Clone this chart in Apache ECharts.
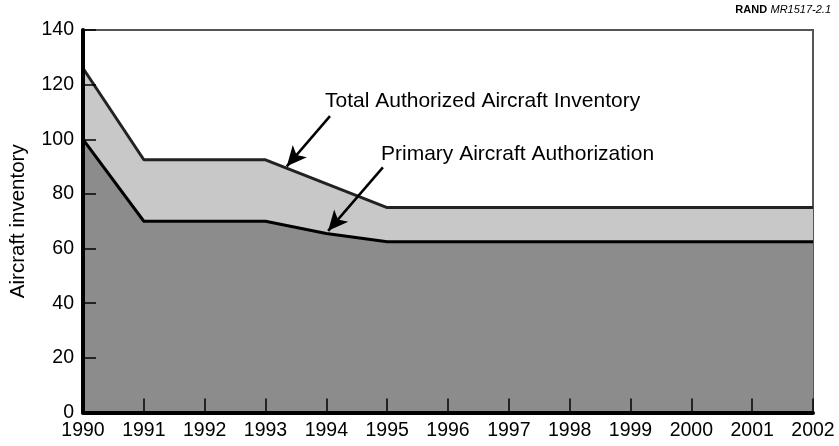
<!DOCTYPE html>
<html>
<head>
<meta charset="utf-8">
<script src="https://cdn.jsdelivr.net/npm/echarts@6/dist/echarts.min.js"></script>
<style>
  html, body { margin: 0; padding: 0; background: #fff; }
  #chart { width: 839px; height: 446px; }
</style>
</head>
<body>
<div id="chart"></div>
<script>
// values (year, aircraft)
var totalInventory = [[1990, 126], [1991, 92.5], [1993, 92.5], [1995, 75], [2002, 75]];
var primaryAuth = [[1990, 100], [1991, 70], [1993, 70], [1994, 65.5], [1995, 62.5], [2002, 62.5]];
var yearMin = 1990, yearMax = 2002;
// arrow start / tip in data units
var totalArrow = [[1994.06, 108.5], [1993.35, 90.1]];
var primaryArrow = [[1994.93, 89.7], [1994.03, 66.5]];

var font = 'Liberation Sans, Arial, Helvetica, sans-serif';
var chart = echarts.init(document.getElementById('chart'));

function arrow(pts) {
  return [{ coord: pts[0], symbol: 'none' }, { coord: pts[1], symbol: 'arrow' }];
}

chart.setOption({
  animation: false,
  grid: {
    left: 82, right: 26, top: 30, bottom: 33.5,
    show: true, borderColor: '#555', borderWidth: 2, backgroundColor: '#fff'
  },
  xAxis: {
    type: 'value', min: yearMin, max: yearMax, interval: 1, z: 10,
    axisLine: { lineStyle: { color: '#000', width: 4 } },
    axisTick: { inside: true, length: 14, lineStyle: { color: '#000', width: 1.5 } },
    axisLabel: { color: '#000', fontSize: 19.5, fontFamily: font, margin: 8,
      formatter: function (v) { return String(v); } },
    splitLine: { show: false }
  },
  yAxis: {
    type: 'value', min: 0, max: 140, interval: 20, z: 10,
    name: 'Aircraft inventory', nameLocation: 'middle', nameGap: 54,
    nameTextStyle: { color: '#000', fontSize: 20.5, fontFamily: font },
    axisLine: { show: true, lineStyle: { color: '#000', width: 4 } },
    axisTick: { show: true, inside: true, length: 13, lineStyle: { color: '#000', width: 1.5 } },
    axisLabel: { color: '#000', fontSize: 19.5, fontFamily: font, margin: 9 },
    splitLine: { show: false }
  },
  series: [
    {
      name: 'Total Authorized Aircraft Inventory',
      type: 'line', data: totalInventory, symbol: 'none', z: 2,
      lineStyle: { color: '#222', width: 3 },
      areaStyle: { color: '#c8c8c8', opacity: 1 }
    },
    {
      name: 'Primary Aircraft Authorization',
      type: 'line', data: primaryAuth, symbol: 'none', z: 3,
      lineStyle: { color: '#000', width: 3 },
      areaStyle: { color: '#8c8c8c', opacity: 1 },
      markLine: {
        silent: true, symbolSize: [14, 20],
        lineStyle: { color: '#000', width: 2.5, type: 'solid' },
        label: { show: false },
        data: [arrow(totalArrow), arrow(primaryArrow)]
      }
    }
  ],
  graphic: [
    { type: 'text', left: 325, top: 91,
      style: { text: 'Total Authorized Aircraft Inventory', fill: '#000', font: '21px ' + font } },
    { type: 'text', left: 381, top: 144,
      style: { text: 'Primary Aircraft Authorization', fill: '#000', font: '21px ' + font } },
    { type: 'text', right: 8, top: 4,
      style: {
        text: '{b|RAND} {i|MR1517-2.1}',
        rich: {
          b: { fontWeight: 'bold', fontSize: 11, fontFamily: font, fill: '#000' },
          i: { fontStyle: 'italic', fontSize: 11, fontFamily: font, fill: '#000' }
        }
      } }
  ]
});
</script>
</body>
</html>
